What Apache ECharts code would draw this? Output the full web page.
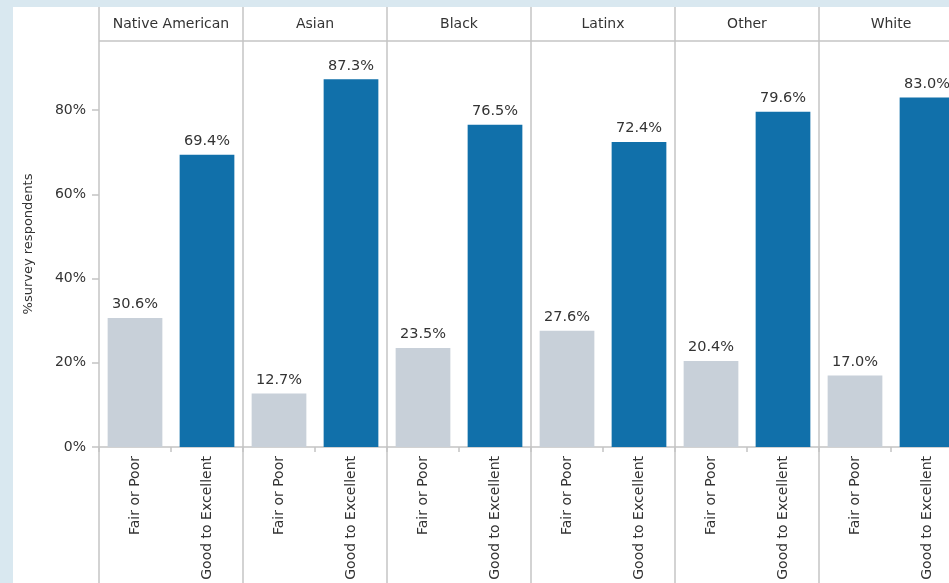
<!DOCTYPE html>
<html>
<head>
<meta charset="utf-8">
<script src="https://cdn.jsdelivr.net/npm/echarts@6/dist/echarts.min.js"></script>
<style>
html,body{margin:0;padding:0;background:#d9e8f0;overflow:hidden;}
#chart{width:963px;height:583px;}
</style>
</head>
<body>
<div id="chart"></div>
<script>
// ---- data ----
const groups = ['Native American', 'Asian', 'Black', 'Latinx', 'Other', 'White'];
const categories = ['Fair or Poor', 'Good to Excellent'];
const fairOrPoor = [30.6, 12.7, 23.5, 27.6, 20.4, 17.0];
const goodToExcellent = [69.4, 87.3, 76.5, 72.4, 79.6, 83.0];
const yTicks = [0, 20, 40, 60, 80];

// ---- layout ----
const FONT = 'DejaVu Sans';
const panelLeft = 99, panelW = 144, plotTop = 41, baseY = 447, H = 583, W = 963;
const headerTop = 7;
const lineColor = '#c4c4c4';
const colors = ['#c8d0d9', '#1170aa'];

const grids = [], xAxes = [], yAxes = [], series = [], graphics = [];

graphics.push({type:'rect', z:-10, shape:{x:13, y:headerTop, width:W, height:H}, style:{fill:'#ffffff'}});

groups.forEach((g, i) => {
  const left = panelLeft + i * panelW;
  grids.push({left: left, width: panelW, top: plotTop, bottom: H - baseY, containLabel:false});
  xAxes.push({
    type:'category', gridIndex:i, data:categories,
    axisLine:{show:true, lineStyle:{color:lineColor, width:1.5}},
    axisTick:{show:true, length:5, lineStyle:{color:lineColor, width:1.5}},
    axisLabel:{rotate:90, margin:9, fontFamily:FONT, fontSize:14, color:'#333'}
  });
  yAxes.push({
    type:'value', gridIndex:i, min:0, max:96.4,
    show: i === 0,
    name: i === 0 ? '%survey respondents' : '',
    nameLocation:'middle', nameGap:64,
    nameTextStyle:{fontFamily:FONT, fontSize:13, color:'#333'},
    splitLine:{show:false},
    axisLine:{show:false},
    axisTick:{show:true, length:7, customValues:yTicks, lineStyle:{color:lineColor, width:1.5}},
    axisLabel:{customValues:yTicks, margin:13, fontFamily:FONT, fontSize:14, color:'#333', formatter:'{value}%'}
  });
  series.push({
    type:'bar', xAxisIndex:i, yAxisIndex:i, barWidth:'76%',
    data: [
      {value: fairOrPoor[i], itemStyle:{color:colors[0]}},
      {value: goodToExcellent[i], itemStyle:{color:colors[1]}}
    ],
    label:{show:true, position:'top', distance:6, fontFamily:FONT, fontSize:14.5, color:'#333',
      formatter: p => p.value.toFixed(1) + '%'}
  });
  // header title
  graphics.push({type:'text', z:5, x:left + panelW/2, y:(headerTop + plotTop)/2,
    style:{text:g, fontFamily:FONT, fontSize:14, fill:'#333', align:'center', verticalAlign:'middle'}});
});
// panel vertical lines
for (let i = 0; i <= groups.length; i++) {
  const x = panelLeft + i * panelW;
  graphics.push({type:'line', z:5, shape:{x1:x, y1:headerTop, x2:x, y2:H}, style:{stroke:lineColor, lineWidth:1.5}});
}
// header bottom line
graphics.push({type:'line', z:5, shape:{x1:panelLeft, y1:plotTop, x2:W, y2:plotTop}, style:{stroke:lineColor, lineWidth:1.5}});

const chart = echarts.init(document.getElementById('chart'));
chart.setOption({
  backgroundColor:'#d9e8f0',
  animation:false,
  grid:grids, xAxis:xAxes, yAxis:yAxes, series:series, graphic:graphics
});
</script>
</body>
</html>
